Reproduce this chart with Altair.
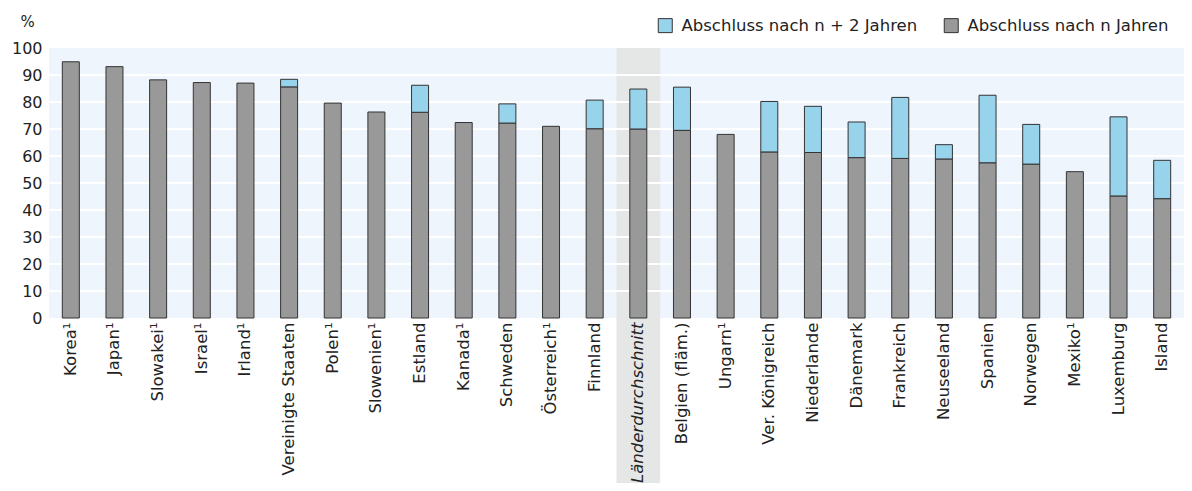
import altair as alt
import pandas as pd

countries = ["Korea¹", "Japan¹", "Slowakei¹", "Israel¹", "Irland¹", "Vereinigte Staaten",
             "Polen¹", "Slowenien¹", "Estland", "Kanada¹", "Schweden", "Österreich¹",
             "Finnland", "Länderdurchschnitt", "Belgien (fläm.)", "Ungarn¹", "Ver. Königreich",
             "Niederlande", "Dänemark", "Frankreich", "Neuseeland", "Spanien", "Norwegen",
             "Mexiko¹", "Luxemburg", "Island"]
n_years = [94.9, 93.1, 88.2, 87.2, 87.0, 85.6, 79.6, 76.3, 76.2, 72.4, 72.2, 71.0,
           70.1, 70.0, 69.5, 68.0, 61.5, 61.3, 59.4, 59.1, 58.9, 57.5, 57.0, 54.2, 45.2, 44.2]
n2_years = [None, None, None, None, None, 88.4, None, None, 86.2, None, 79.3, None,
            80.7, 84.8, 85.5, None, 80.2, 78.4, 72.6, 81.7, 64.2, 82.5, 71.7, None, 74.5, 58.4]
series = ["Abschluss nach n + 2 Jahren", "Abschluss nach n Jahren"]
colors = ["#98D3EC", "#999999"]
grid_ticks = [10, 20, 30, 40, 50, 60, 70, 80, 90]
y_labels = [0, 10, 20, 30, 40, 50, 60, 70, 80, 90, 100]
highlight = ["Länderdurchschnitt"]

rows = []
for c, a, b in zip(countries, n_years, n2_years):
    rows.append({"country": c, "series": series[1], "lo": 0, "hi": a})
    if b is not None:
        rows.append({"country": c, "series": series[0], "lo": a, "hi": b})
df = pd.DataFrame(rows)

W, H = 1135, 270
FONT = "DejaVu Sans"

xscale = alt.Scale(domain=countries, paddingInner=0, paddingOuter=0)
yscale = alt.Scale(domain=[0, 100], nice=False)
yaxis = alt.Axis(values=y_labels, grid=False, ticks=False, domain=False,
                 labelOverlap=False, tickCount=11,
                 labelFontSize=16, labelFont=FONT, labelColor="#222222", labelPadding=7,
                 title="%", titleAngle=0, titleAlign="left", titleBaseline="bottom",
                 titleX=-29, titleY=-19, titleFont=FONT, titleFontSize=15,
                 titleFontWeight="normal", titleColor="#222222")

band = alt.Chart(pd.DataFrame({"country": highlight})).mark_bar(
    color="#E5E6E6", width=alt.RelativeBandSize(1)
).encode(
    x=alt.X("country:N", scale=xscale, sort=countries,
            axis=alt.Axis(title=None, labelAngle=-90, labelFontSize=16.5, labelFont=FONT,
                          labelColor="#222222", labelPadding=4, ticks=False, domain=False,
                          labelLimit=300, zindex=2, labelOverlap=False,
                          labelFontStyle={"expr": "datum.value == 'Länderdurchschnitt' ? 'italic' : 'normal'"})),
    y=alt.value(0),
    y2=alt.value(445),
)

grid = alt.Chart(pd.DataFrame({"v": grid_ticks})).mark_rule(
    color="white", strokeWidth=2
).encode(
    y=alt.Y("v:Q", scale=yscale, axis=yaxis),
    x=alt.value(0),
    x2=alt.value(W),
)

bars = alt.Chart(df).mark_bar(size=17, stroke="#333333", strokeWidth=1).encode(
    x=alt.X("country:N", scale=xscale, sort=countries),
    y=alt.Y("hi:Q", scale=yscale, axis=yaxis),
    y2="lo:Q",
    color=alt.Color("series:N", scale=alt.Scale(domain=series, range=colors),
                    legend=alt.Legend(title=None, orient="none", direction="horizontal",
                                      legendX=608, legendY=-31, symbolType="square",
                                      symbolSize=196, symbolStrokeColor="#333333",
                                      symbolStrokeWidth=1, labelFont=FONT, labelFontSize=16.5,
                                      labelColor="#222222", labelOffset=8, columnPadding=24,
                                      labelLimit=400)),
)

chart = alt.layer(band, grid, bars).properties(
    width=W, height=H,
    background="white",
    autosize=alt.AutoSizeParams(type="none"),
    padding={"left": 41, "top": 40, "right": 0, "bottom": 165},
).configure_view(
    fill="#EEF5FC", strokeWidth=0
)

chart.save("out.html", embed_options={"renderer": "svg", "actions": False})
